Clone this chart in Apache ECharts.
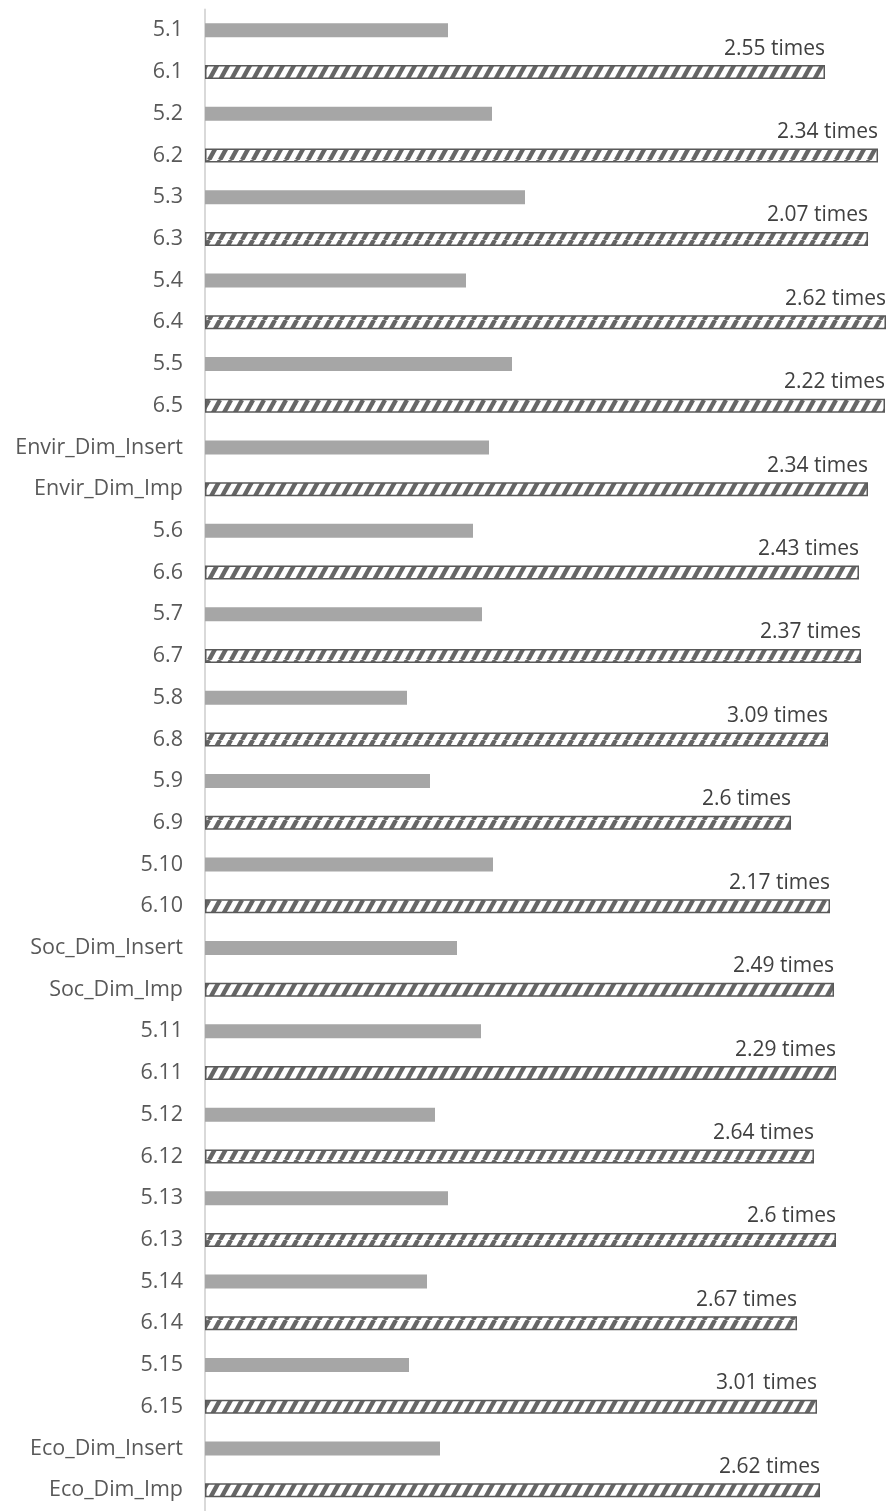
<!DOCTYPE html>
<html>
<head>
<meta charset="utf-8">
<title>Insert vs Imp</title>
<script src="https://cdn.jsdelivr.net/npm/echarts@6/dist/echarts.min.js"></script>
<style>
  html, body { margin: 0; padding: 0; background: #fff; }
  #chart { width: 888px; height: 1511px; }
</style>
</head>
<body>
<div id="chart"></div>
<script>
// categories, top to bottom (pairs: insert / imp)
const categories = [
  '5.1', '6.1', '5.2', '6.2', '5.3', '6.3', '5.4', '6.4', '5.5', '6.5',
  'Envir_Dim_Insert', 'Envir_Dim_Imp',
  '5.6', '6.6', '5.7', '6.7', '5.8', '6.8', '5.9', '6.9', '5.10', '6.10',
  'Soc_Dim_Insert', 'Soc_Dim_Imp',
  '5.11', '6.11', '5.12', '6.12', '5.13', '6.13', '5.14', '6.14', '5.15', '6.15',
  'Eco_Dim_Insert', 'Eco_Dim_Imp'
]

// bar lengths (one per pair)
const insertValues = [243, 287, 320, 261, 307, 284, 268, 277, 202, 225, 288, 252, 276, 230, 243, 222, 204, 235]
const impValues = [620, 673, 663, 681, 680, 663, 654, 656, 623, 586, 625, 629, 631, 609, 631, 592, 612, 615]

// ratio labels above the hatched bars
const ratioLabels = ['2.55', '2.34', '2.07', '2.62', '2.22', '2.34', '2.43', '2.37', '3.09',
  '2.6', '2.17', '2.49', '2.29', '2.64', '2.6', '2.67', '3.01', '2.62']

// 斜线填充
function makeHatch() {
  const w = 11, h = 20
  const c = document.createElement('canvas')
  c.width = w
  c.height = h
  const ctx = c.getContext('2d')
  ctx.fillStyle = '#ffffff'
  ctx.fillRect(0, 0, w, h)
  ctx.strokeStyle = '#666666'
  ctx.lineWidth = 4.4
  for (let k = -1; k <= 1; k++) {
    ctx.beginPath()
    ctx.moveTo(k * w, h)
    ctx.lineTo(k * w + w, 0)
    ctx.stroke()
  }
  return c
}
const hatch = makeHatch()

// build series data
const barData = []
for (let i = 0; i < insertValues.length; i++) {
  barData.push({
    value: insertValues[i],
    itemStyle: { color: '#a6a6a6' },
    label: { show: false }
  })
  barData.push({
    value: impValues[i],
    itemStyle: {
      color: { image: hatch, repeat: 'repeat' },
      borderColor: '#595959',
      borderWidth: 1.5
    },
    label: { show: true, formatter: ratioLabels[i] + ' times' }
  })
}

const chart = echarts.init(document.getElementById('chart'))

const option = {
  animation: false,
  grid: { left: 205, right: 0, top: 9.5, bottom: -7.5, containLabel: false },
  xAxis: {
    type: 'value',
    min: 0,
    max: 683,
    show: false
  },
  yAxis: {
    type: 'category',
    inverse: true,
    data: categories,
    axisLine: { show: true, lineStyle: { color: '#d9d9d9', width: 2 } },
    axisTick: { show: false },
    axisLabel: {
      color: '#595959',
      fontSize: 21.5,
      fontFamily: 'Open Sans',
      margin: 22
    }
  },
  series: [{
    type: 'bar',
    barWidth: 14,
    data: barData,
    label: {
      position: ['100%', 0],
      align: 'right',
      verticalAlign: 'bottom',
      offset: [0, -6],
      color: '#404040',
      fontSize: 21,
      fontFamily: 'Open Sans'
    }
  }]
}

chart.setOption(option)
</script>
</body>
</html>
